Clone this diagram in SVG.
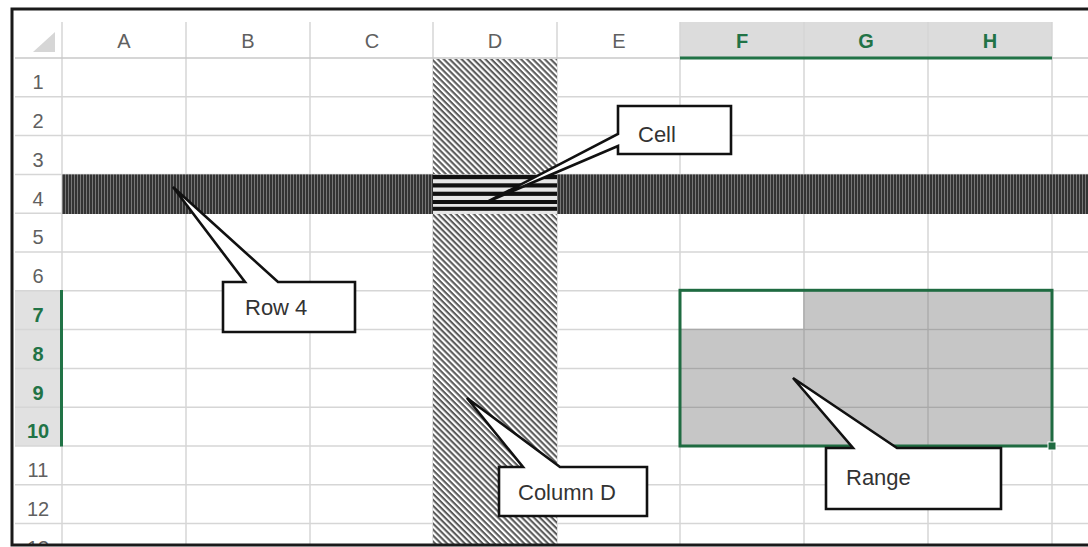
<svg xmlns="http://www.w3.org/2000/svg" width="1088" height="547" viewBox="0 0 1088 547">
<style>
.hdr{font-family:"Liberation Sans",Arial,sans-serif;font-size:20px;fill:#606060;text-anchor:middle}
.sel{fill:#217346;font-weight:bold}
.grid line{stroke:#d6d6d6;stroke-width:1.5}
.rgrid line{stroke:#a9a9a9;stroke-width:1.5}
.callout path{fill:#fff;stroke:#111;stroke-width:2.6;stroke-linejoin:miter}
.callout text{font-family:"Liberation Sans",Arial,sans-serif;font-size:22px;fill:#333}
</style>
<defs>
<pattern id="rowpat" width="3" height="10" patternUnits="userSpaceOnUse">
<rect width="3" height="10" fill="#333"/><rect x="2" width="1" height="10" fill="#777"/>
</pattern>
<pattern id="hatch" width="8" height="4.2" patternUnits="userSpaceOnUse" patternTransform="rotate(45)">
<rect width="8" height="4.2" fill="#fff"/><rect width="8" height="2.1" fill="#5c5c5c"/>
</pattern>
<clipPath id="frame"><rect x="12" y="9" width="1076" height="536"/></clipPath>
</defs>
<rect width="1088" height="547" fill="#fff"/>
<g id="sheet" clip-path="url(#frame)">
<rect x="680" y="22" width="372" height="36" fill="#dcdcdc"/>
<rect x="15" y="290.8" width="47" height="155.2" fill="#e1e1e1"/>
<polygon points="33,52 55,52 55,32" fill="#d6d6d6"/>
<rect x="680" y="290.8" width="372" height="155.2" fill="#c6c6c6"/>
<rect x="680" y="290.8" width="124" height="38.8" fill="#fff"/>
<g class="grid">
<line x1="62" y1="22" x2="62" y2="547"/>
<line x1="186" y1="22" x2="186" y2="547"/>
<line x1="310" y1="22" x2="310" y2="547"/>
<line x1="433" y1="22" x2="433" y2="547"/>
<line x1="557" y1="22" x2="557" y2="547"/>
<line x1="680" y1="22" x2="680" y2="547"/>
<line x1="804" y1="22" x2="804" y2="547"/>
<line x1="928" y1="22" x2="928" y2="547"/>
<line x1="1052" y1="22" x2="1052" y2="547"/>
<line x1="15" y1="58" x2="1088" y2="58" style="stroke:#c8c8c8"/>
<line x1="15" y1="96.8" x2="1088" y2="96.8"/>
<line x1="15" y1="135.6" x2="1088" y2="135.6"/>
<line x1="15" y1="174.4" x2="1088" y2="174.4"/>
<line x1="15" y1="213.2" x2="1088" y2="213.2"/>
<line x1="15" y1="252" x2="1088" y2="252"/>
<line x1="15" y1="290.8" x2="1088" y2="290.8"/>
<line x1="15" y1="329.6" x2="1088" y2="329.6"/>
<line x1="15" y1="368.4" x2="1088" y2="368.4"/>
<line x1="15" y1="407.2" x2="1088" y2="407.2"/>
<line x1="15" y1="446" x2="1088" y2="446"/>
<line x1="15" y1="484.8" x2="1088" y2="484.8"/>
<line x1="15" y1="523.6" x2="1088" y2="523.6"/>
</g>
<g class="rgrid">
<line x1="804" y1="291" x2="804" y2="446"/>
<line x1="928" y1="291" x2="928" y2="446"/>
<line x1="680" y1="329.6" x2="1052" y2="329.6"/>
<line x1="680" y1="368.4" x2="1052" y2="368.4"/>
<line x1="680" y1="407.2" x2="1052" y2="407.2"/>
</g>
<rect id="colD" x="433" y="59" width="124" height="488" fill="url(#hatch)"/>
<rect id="row4" x="62" y="174.4" width="1026" height="39.6" fill="url(#rowpat)"/>
<g id="cellD4">
<rect x="433" y="174.4" width="124" height="39.6" fill="#e6e6e6"/>
<rect x="433" y="175" width="124" height="4.2" fill="#111"/>
<rect x="433" y="183.3" width="124" height="4.2" fill="#111"/>
<rect x="433" y="191.7" width="124" height="4.2" fill="#111"/>
<rect x="433" y="200" width="124" height="4" fill="#111"/>
<rect x="433" y="206.8" width="124" height="4" fill="#111"/>
</g>
<rect x="680" y="56.5" width="372" height="3" fill="#217346"/>
<rect x="60" y="290" width="3" height="156.5" fill="#217346"/>
<rect id="range" x="680" y="290.3" width="372" height="155.7" fill="none" stroke="#1f6b41" stroke-width="3"/>
<rect x="1048" y="442" width="8" height="8" fill="#1f6b41" stroke="#fff" stroke-width="1"/>
<g id="colHeaders">
<text class="hdr" x="124" y="48">A</text>
<text class="hdr" x="248" y="48">B</text>
<text class="hdr" x="372" y="48">C</text>
<text class="hdr" x="495" y="48">D</text>
<text class="hdr" x="619" y="48">E</text>
<text class="hdr sel" x="742" y="48">F</text>
<text class="hdr sel" x="866" y="48">G</text>
<text class="hdr sel" x="990" y="48">H</text>
</g>
<g id="rowHeaders">
<text class="hdr" x="38" y="89">1</text>
<text class="hdr" x="38" y="128">2</text>
<text class="hdr" x="38" y="166.8">3</text>
<text class="hdr" x="38" y="205.6">4</text>
<text class="hdr" x="38" y="244.4">5</text>
<text class="hdr" x="38" y="283.2">6</text>
<text class="hdr sel" x="38" y="322">7</text>
<text class="hdr sel" x="38" y="360.8">8</text>
<text class="hdr sel" x="38" y="399.6">9</text>
<text class="hdr sel" x="38" y="438.4">10</text>
<text class="hdr" x="38" y="477.2">11</text>
<text class="hdr" x="38" y="516">12</text>
<text class="hdr" x="38" y="554.8">13</text>
</g>
</g>
<g id="connectors"></g>
<g id="callout-cell" class="callout">
<path d="M618,106 L731,106 L731,154 L618,154 L618,146 L487,202 L618,134 Z"/>
<text x="638" y="142">Cell</text>
</g>
<g id="callout-row4" class="callout">
<path d="M223,282 L245,282 L173,187 L278,282 L355,282 L355,332 L223,332 Z"/>
<text x="245" y="315">Row 4</text>
</g>
<g id="callout-columnD" class="callout">
<path d="M499,467 L523,467 L467,398 L560,467 L647,467 L647,516 L499,516 Z"/>
<text x="518" y="500">Column D</text>
</g>
<g id="callout-range" class="callout">
<path d="M826,448 L853,448 L793,378 L897,448 L1001,448 L1001,509 L826,509 Z"/>
<text x="846" y="485">Range</text>
</g>
<rect id="border" x="12" y="9" width="1090" height="536" fill="none" stroke="#1a1a1a" stroke-width="3"/>
</svg>
